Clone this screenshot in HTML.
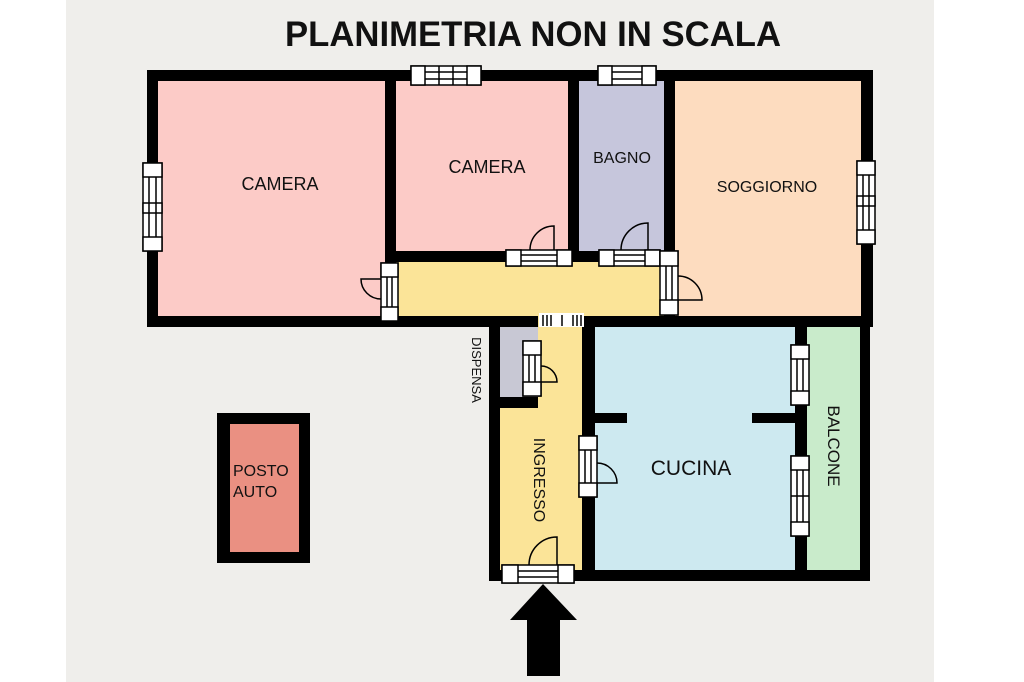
<!DOCTYPE html>
<html><head><meta charset="utf-8"><style>
html,body{margin:0;padding:0;background:#fff;}
svg{display:block;}
text{font-family:"Liberation Sans",Arial,sans-serif;fill:#111;}
</style></head><body>
<svg width="1024" height="682" viewBox="0 0 1024 682" xmlns="http://www.w3.org/2000/svg">
<rect x="0" y="0" width="1024" height="682" fill="#fff"/>
<rect x="66" y="0" width="868" height="682" fill="#efeeeb"/>
<text x="533" y="46" font-size="35" font-weight="bold" text-anchor="middle" textLength="496" lengthAdjust="spacingAndGlyphs">PLANIMETRIA NON IN SCALA</text>

<rect x="147" y="70" width="726" height="257" fill="#000"/>
<rect x="158" y="81" width="227" height="235" fill="#fccbc7"/>
<rect x="396" y="81" width="172" height="170" fill="#fccbc7"/>
<rect x="579" y="81" width="85" height="170" fill="#c6c6dc"/>
<rect x="675" y="81" width="186" height="235" fill="#fddcbf"/>
<rect x="396" y="262" width="268" height="54" fill="#fbe498"/>

<rect x="489" y="316" width="381" height="265" fill="#000"/>
<rect x="500" y="327" width="82" height="243" fill="#fbe498"/>
<rect x="500" y="327" width="38" height="70" fill="#c8c8d4"/>
<rect x="500" y="397" width="38" height="11" fill="#000"/>
<rect x="595" y="327" width="200" height="243" fill="#cde9f0"/>
<rect x="807" y="327" width="53" height="243" fill="#c9ebcb"/>
<rect x="595" y="413" width="32" height="10" fill="#000"/>
<rect x="752" y="413" width="43" height="10" fill="#000"/>
<rect x="538" y="312" width="44" height="16" fill="#fbe498"/>

<rect x="217" y="413" width="93" height="150" fill="#000"/>
<rect x="230" y="424" width="69" height="128" fill="#ea9082"/>

<g fill="#fff" stroke="#000" stroke-width="1.5">
<rect x="411" y="66" width="70" height="19"/>
<rect x="411" y="66" width="14" height="19"/><rect x="467" y="66" width="14" height="19"/>
<line x1="439" y1="66" x2="439" y2="85"/><line x1="453" y1="66" x2="453" y2="85"/>
<line x1="425" y1="72" x2="467" y2="72"/><line x1="425" y1="79" x2="467" y2="79"/>
<rect x="598" y="66" width="58" height="19"/>
<rect x="598" y="66" width="14" height="19"/><rect x="642" y="66" width="14" height="19"/>
<line x1="612" y1="72" x2="642" y2="72"/><line x1="612" y1="79" x2="642" y2="79"/>
<rect x="143" y="163" width="19" height="88"/>
<rect x="143" y="163" width="19" height="14"/><rect x="143" y="237" width="19" height="14"/><rect x="143" y="203" width="19" height="10"/>
<line x1="149" y1="177" x2="149" y2="237"/><line x1="156" y1="177" x2="156" y2="237"/>
<rect x="857" y="161" width="18" height="83"/>
<rect x="857" y="161" width="18" height="14"/><rect x="857" y="230" width="18" height="14"/><rect x="857" y="196" width="18" height="10"/>
<line x1="863" y1="175" x2="863" y2="230"/><line x1="869" y1="175" x2="869" y2="230"/>
<rect x="791" y="345" width="18" height="60"/>
<rect x="791" y="345" width="18" height="14"/><rect x="791" y="391" width="18" height="14"/>
<line x1="797" y1="359" x2="797" y2="391"/><line x1="803" y1="359" x2="803" y2="391"/>
<rect x="791" y="456" width="18" height="80"/>
<rect x="791" y="456" width="18" height="14"/><rect x="791" y="522" width="18" height="14"/>
<line x1="797" y1="470" x2="797" y2="522"/><line x1="803" y1="470" x2="803" y2="522"/>
<line x1="791" y1="496" x2="809" y2="496"/>
</g>

<g fill="#fff" stroke="#000" stroke-width="1.5">
<rect x="506" y="250" width="66" height="16"/><rect x="506" y="250" width="15" height="16"/><rect x="557" y="250" width="15" height="16"/>
<line x1="521" y1="255" x2="557" y2="255"/><line x1="521" y1="261" x2="557" y2="261"/>
<rect x="599" y="250" width="61" height="16"/><rect x="599" y="250" width="15" height="16"/><rect x="645" y="250" width="15" height="16"/>
<line x1="614" y1="255" x2="645" y2="255"/><line x1="614" y1="261" x2="645" y2="261"/>
<rect x="381" y="263" width="17" height="58"/><rect x="381" y="263" width="17" height="14"/><rect x="381" y="307" width="17" height="14"/>
<line x1="387" y1="277" x2="387" y2="307"/><line x1="392" y1="277" x2="392" y2="307"/>
<rect x="660" y="251" width="18" height="64"/><rect x="660" y="251" width="18" height="15"/><rect x="660" y="300" width="18" height="15"/>
<line x1="666" y1="266" x2="666" y2="300"/><line x1="672" y1="266" x2="672" y2="300"/>
<rect x="523" y="341" width="18" height="55"/><rect x="523" y="341" width="18" height="14"/><rect x="523" y="382" width="18" height="14"/>
<line x1="529" y1="355" x2="529" y2="382"/><line x1="535" y1="355" x2="535" y2="382"/>
<rect x="579" y="436" width="18" height="61"/><rect x="579" y="436" width="18" height="14"/><rect x="579" y="483" width="18" height="14"/>
<line x1="585" y1="450" x2="585" y2="483"/><line x1="591" y1="450" x2="591" y2="483"/>
<rect x="502" y="565" width="72" height="18"/><rect x="502" y="565" width="16" height="18"/><rect x="558" y="565" width="16" height="18"/>
<line x1="518" y1="571" x2="558" y2="571"/><line x1="518" y1="577" x2="558" y2="577"/>
<rect x="539" y="313" width="45" height="14" stroke="none"/>
</g>
<g stroke="#000" stroke-width="1.5" fill="none">
<line x1="543" y1="315" x2="543" y2="326"/><line x1="547" y1="315" x2="547" y2="326"/><line x1="551" y1="315" x2="551" y2="326"/>
<line x1="562" y1="315" x2="562" y2="326"/><line x1="573" y1="315" x2="573" y2="326"/><line x1="577" y1="315" x2="577" y2="326"/><line x1="581" y1="315" x2="581" y2="326"/>
<path d="M554 250 V226 A24 24 0 0 0 530 250"/>
<path d="M648 250 V223 A27 27 0 0 0 621 250"/>
<path d="M381 279 H361 A20 20 0 0 0 381 299"/>
<path d="M678 300 H702 A24 24 0 0 0 678 276"/>
<path d="M541 382 H557 A16 16 0 0 0 541 366"/>
<path d="M597 483 H617 A20 20 0 0 0 597 463"/>
<path d="M557 565 V537 A28 28 0 0 0 529 565"/>
</g>

<path d="M543 584 L577 620 L560 620 L560 676 L527 676 L527 620 L510 620 Z" fill="#000"/>

<text x="280" y="190" font-size="18" text-anchor="middle">CAMERA</text>
<text x="487" y="173" font-size="18" text-anchor="middle">CAMERA</text>
<text x="622" y="163" font-size="16" text-anchor="middle">BAGNO</text>
<text x="767" y="192" font-size="16" text-anchor="middle">SOGGIORNO</text>
<text x="691" y="475" font-size="21" text-anchor="middle">CUCINA</text>
<text x="233" y="476" font-size="16">POSTO</text>
<text x="233" y="497" font-size="16">AUTO</text>
<text transform="translate(534,480) rotate(90)" font-size="16" text-anchor="middle">INGRESSO</text>
<text transform="translate(828,446) rotate(90)" font-size="17" text-anchor="middle">BALCONE</text>
<text transform="translate(472,370) rotate(90)" font-size="13" text-anchor="middle">DISPENSA</text>
</svg>
</body></html>
